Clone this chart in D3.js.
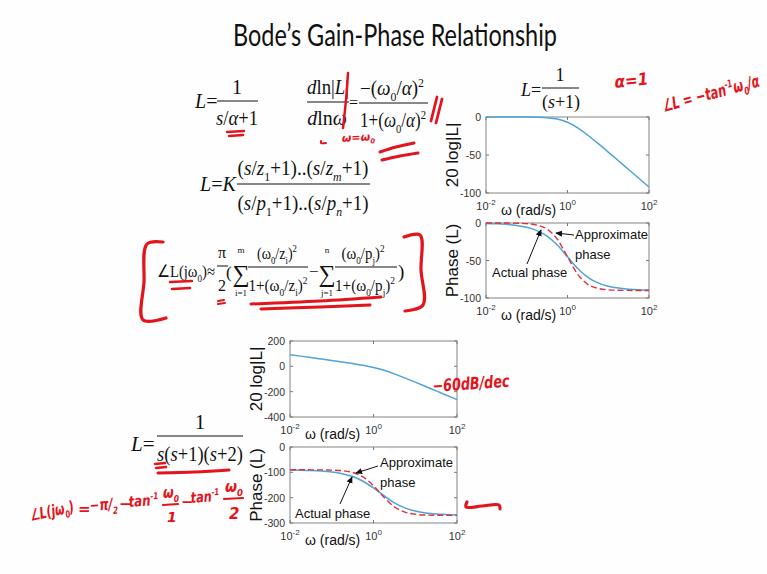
<!DOCTYPE html>
<html><head><meta charset="utf-8">
<script src="https://cdn.jsdelivr.net/npm/d3@7"></script>
<style>body{margin:0;background:#fff}svg{display:block}</style>
</head><body><svg id="c" width="767" height="574"></svg>
<script>
// Frequency grid (rad/s), quarter-decade steps
const omega = [0.01, 0.0178, 0.0316, 0.0562, 0.1, 0.178, 0.316, 0.562, 1, 1.78, 3.16, 5.62, 10, 17.8, 31.6, 56.2, 100];

// L = 1/(s+1)
const gain1 = [0, -0.003, -0.01, -0.03, -0.1, -0.31, -0.95, -2.75, -6.93, -14.3, -24.0, -34.8, -46.2, -57.6, -69.1, -80.6, -92.1];
const phase1Actual = [-0.57, -1.02, -1.81, -3.22, -5.71, -10.1, -17.5, -29.4, -45, -60.6, -72.5, -79.9, -84.3, -86.8, -88.2, -89.0, -89.4];
const phase1Approx = [-0.01, -0.03, -0.09, -0.28, -0.89, -2.77, -8.18, -21.6, -45, -68.4, -81.8, -87.2, -89.1, -89.7, -89.9, -90.0, -90.0];

// L = 1/(s(s+1)(s+2))
const gain2 = [92.1, 80.6, 69.1, 57.5, 45.9, 34.1, 21.8, 8.0, -9.2, -31.6, -59.5, -91.2, -124.8, -159.0, -193.4, -227.9, -262.4];
const phase2Actual = [-90.9, -91.5, -92.7, -94.8, -98.6, -105.2, -116.5, -135.1, -161.6, -192.2, -220.2, -240.3, -253.0, -260.4, -264.6, -266.9, -268.3];
const phase2Approx = [-90.0, -90.0, -90.1, -90.4, -91.1, -93.5, -100.4, -118.2, -153.0, -198.1, -236.1, -257.1, -265.6, -268.6, -269.6, -269.9, -270.0];

// Axis ticks
const xTicks = [0.01, 1, 100];
const xTickExp = ["-2", "0", "2"];
const gainTicks1 = [0, -50, -100];
const phaseTicks1 = [0, -50, -100];
const gainTicks2 = [200, 0, -200, -400];
const phaseTicks2 = [0, -100, -200, -300];

const SERIF = "'Liberation Serif','Times New Roman',serif";
const SANS = "'Liberation Sans',Arial,sans-serif";
const HAND = "'DejaVu Sans',sans-serif";
const RED = "#e3141c";
const BLUE = "#4fa3d8";
const DASH = "#e0303c";

const svg = d3.select("#c");
svg.append("rect").attr("width", 767).attr("height", 574).attr("fill", "#fefefe");

svg.append("defs").append("marker")
  .attr("id", "ah").attr("viewBox", "0 0 8 8").attr("refX", 7).attr("refY", 4)
  .attr("markerWidth", 7).attr("markerHeight", 7).attr("markerUnits", "userSpaceOnUse")
  .attr("orient", "auto")
  .append("path").attr("d", "M0,0.5 L8,4 L0,7.5 Z").attr("fill", "#111");

// Title
svg.append("text").attr("x", 395).attr("y", 46).attr("text-anchor", "middle")
  .attr("font-family", "Lato, 'Open Sans', sans-serif").attr("font-size", 30)
  .attr("textLength", 324).attr("lengthAdjust", "spacingAndGlyphs").attr("fill", "#111")
  .text("Bode\u2019s Gain-Phase Relationship");

// Math text helper: parts are strings or [string, flags] with i = italic, s = subscript, p = superscript.
// When a width is given, the whole line is scaled horizontally to that width.
function mt(g, x, y, parts, size, anchor = "start", fam = SERIF, color = "#111", len = 0) {
  const t = g.append("text").attr("x", x).attr("y", y).attr("font-size", size)
    .attr("font-family", fam).attr("text-anchor", anchor).attr("fill", color);
  let shift = 0;
  parts.forEach(p => {
    const [s, k] = Array.isArray(p) ? p : [p, ""];
    const ts = t.append("tspan").text(s);
    let target = 0;
    if (k.includes("s")) { target = size * 0.28; ts.attr("font-size", size * 0.62); }
    if (k.includes("p")) { target = -size * 0.4; ts.attr("font-size", size * 0.62); }
    if (k.includes("i")) ts.attr("font-style", "italic");
    if (target !== shift) { ts.attr("dy", target - shift); shift = target; }
  });
  let tf = `translate(${x},${y})`;
  if (len) {
    const w = t.node().getComputedTextLength();
    if (w > 0) tf += ` scale(${len / w},1)`;
  }
  t.attr("x", 0).attr("y", 0).attr("transform", tf);
  return t;
}
function bar(g, x1, x2, y, w = 1.1, color = "#111") {
  g.append("line").attr("x1", x1).attr("x2", x2).attr("y1", y).attr("y2", y)
    .attr("stroke", color).attr("stroke-width", w);
}

const eq = svg.append("g");

// L = 1/(s/α+1)
mt(eq, 195, 108, [["L", "i"], "="], 20);
mt(eq, 237, 94, ["1"], 20, "middle");
bar(eq, 217, 258, 101);
mt(eq, 237, 125, [["s", "i"], "/", ["α", "i"], "+1"], 20, "middle", SERIF, "#111", 42);

// d ln|L| / d ln ω = −(ω0/α)² / (1+(ω0/α)²)
mt(eq, 328, 94, [["d", "i"], "ln|", ["L", "i"], "|"], 20, "middle", SERIF, "#111", 42);
bar(eq, 307, 349, 102);
mt(eq, 327, 125, [["d", "i"], "ln", ["ω", "i"]], 20, "middle");
mt(eq, 349, 108, ["="], 16);
mt(eq, 392, 95, ["−(", ["ω", "i"], ["0", "s"], "/", ["α", "i"], ")", ["2", "p"]], 20, "middle", SERIF, "#111", 64);
bar(eq, 359, 428, 103);
mt(eq, 393, 127, ["1+(", ["ω", "i"], ["0", "s"], "/", ["α", "i"], ")", ["2", "p"]], 20, "middle", SERIF, "#111", 66);

// L = K (s/z1+1)..(s/zm+1) / (s/p1+1)..(s/pn+1)
mt(eq, 200, 191, [["L", "i"], "=", ["K", "i"]], 20, "start", SERIF, "#111", 36);
mt(eq, 303, 175, ["(", ["s", "i"], "/", ["z", "i"], ["1", "s"], "+1)..(", ["s", "i"], "/", ["z", "i"], ["m", "is"], "+1)"], 20, "middle", SERIF, "#111", 131);
bar(eq, 237, 370, 184);
mt(eq, 303, 210, ["(", ["s", "i"], "/", ["p", "i"], ["1", "s"], "+1)..(", ["s", "i"], "/", ["p", "i"], ["n", "is"], "+1)"], 20, "middle", SERIF, "#111", 131);

// ∠L(jω0) ≈ π/2 ( Σ ... − Σ ... )
mt(eq, 157, 277, ["∠L(jω", ["0", "s"], ")≈"], 17, "start", SERIF, "#111", 58);
mt(eq, 222, 258, ["π"], 16, "middle");
bar(eq, 217, 228, 266, 1);
mt(eq, 222, 291, ["2"], 16, "middle");
mt(eq, 226, 278, ["("], 17);
mt(eq, 241, 282, ["∑"], 24, "middle");
mt(eq, 241, 253, ["m"], 9, "middle");
mt(eq, 241, 296, ["i=1"], 9, "middle");
mt(eq, 277, 259, ["(ω", ["0", "s"], "/z", ["i", "s"], ")", ["2", "p"]], 17, "middle", SERIF, "#111", 40);
bar(eq, 248, 308, 267);
mt(eq, 278, 291, ["1+(ω", ["0", "s"], "/z", ["i", "s"], ")", ["2", "p"]], 17, "middle", SERIF, "#111", 59);
mt(eq, 309, 277, ["−"], 17);
mt(eq, 327, 282, ["∑"], 24, "middle");
mt(eq, 327, 253, ["n"], 9, "middle");
mt(eq, 327, 296, ["j=1"], 9, "middle");
mt(eq, 363, 259, ["(ω", ["0", "s"], "/p", ["j", "s"], ")", ["2", "p"]], 17, "middle", SERIF, "#111", 43);
bar(eq, 335, 397, 267);
mt(eq, 365, 291, ["1+(ω", ["0", "s"], "/p", ["j", "s"], ")", ["2", "p"]], 17, "middle", SERIF, "#111", 60);
mt(eq, 398, 278, [")"], 19);

// L = 1/(s+1) above the first Bode plot
mt(eq, 521, 96, [["L", "i"], "="], 18);
mt(eq, 560, 81, ["1"], 18, "middle");
bar(eq, 542, 579, 88);
mt(eq, 561, 108, ["(", ["s", "i"], "+1)"], 18, "middle");

// L = 1/(s(s+1)(s+2))
mt(eq, 131, 451, [["L", "i"], "="], 21);
mt(eq, 200, 429, ["1"], 21, "middle");
bar(eq, 157, 243, 436);
mt(eq, 200, 461, [["s", "i"], "(", ["s", "i"], "+1)(", ["s", "i"], "+2)"], 21, "middle", SERIF, "#111", 86);

// ---- Bode plots ----
const panels = [
  { x0: 486, x1: 649, y0: 117, y1: 193, dom: [-100, 0], ticks: gainTicks1, label: "20 log|L|",
    series: [{ v: gain1, c: "blue" }] },
  { x0: 486, x1: 649, y0: 223, y1: 298, dom: [-100, 0], ticks: phaseTicks1, label: "Phase (L)",
    series: [{ v: phase1Actual, c: "blue" }, { v: phase1Approx, c: "red" }] },
  { x0: 290, x1: 457, y0: 341, y1: 417, dom: [-400, 200], ticks: gainTicks2, label: "20 log|L|",
    series: [{ v: gain2, c: "blue" }] },
  { x0: 290, x1: 457, y0: 447, y1: 523, dom: [-300, 0], ticks: phaseTicks2, label: "Phase (L)",
    series: [{ v: phase2Actual, c: "blue" }, { v: phase2Approx, c: "red" }] }
];

panels.forEach(p => {
  const g = svg.append("g");
  const x = d3.scaleLog().domain([0.01, 100]).range([p.x0, p.x1]);
  const y = d3.scaleLinear().domain(p.dom).range([p.y1, p.y0]);

  g.append("rect").attr("x", p.x0).attr("y", p.y0).attr("width", p.x1 - p.x0).attr("height", p.y1 - p.y0)
    .attr("fill", "#fff").attr("stroke", "#8f8f8f").attr("stroke-width", 1.1);

  // ticks inside the frame
  p.ticks.forEach(t => {
    g.append("line").attr("x1", p.x0).attr("x2", p.x0 + 3).attr("y1", y(t)).attr("y2", y(t)).attr("stroke", "#777");
    g.append("line").attr("x1", p.x1).attr("x2", p.x1 - 3).attr("y1", y(t)).attr("y2", y(t)).attr("stroke", "#777");
    g.append("text").attr("x", p.x0 - 5).attr("y", y(t) + 4).attr("text-anchor", "end")
      .attr("font-family", SANS).attr("font-size", 10.5).attr("fill", "#333").text(t);
  });
  xTicks.forEach((t, i) => {
    g.append("line").attr("x1", x(t)).attr("x2", x(t)).attr("y1", p.y1).attr("y2", p.y1 - 3).attr("stroke", "#777");
    g.append("line").attr("x1", x(t)).attr("x2", x(t)).attr("y1", p.y0).attr("y2", p.y0 + 3).attr("stroke", "#777");
    const tx = g.append("text").attr("x", x(t)).attr("y", p.y1 + 17).attr("text-anchor", "middle")
      .attr("font-family", SANS).attr("font-size", 11).attr("fill", "#333");
    tx.append("tspan").text("10");
    tx.append("tspan").attr("font-size", 8).attr("dy", -5).text(xTickExp[i]);
  });
  g.append("text").attr("x", p.x0 + 15).attr("y", p.y1 + 22).attr("font-family", SANS)
    .attr("font-size", 14).attr("fill", "#111").text("ω (rad/s)");
  g.append("text").attr("transform", `translate(${p.x0 - 28},${(p.y0 + p.y1) / 2}) rotate(-90)`)
    .attr("text-anchor", "middle").attr("font-family", SANS).attr("font-size", 17)
    .attr("fill", "#111").text(p.label);

  const line = d3.line().x((d, i) => x(omega[i])).y(d => y(d)).curve(d3.curveMonotoneX);
  p.series.forEach(s => {
    g.append("path").attr("d", line(s.v)).attr("fill", "none")
      .attr("stroke", s.c === "blue" ? BLUE : DASH).attr("stroke-width", s.c === "blue" ? 1.5 : 1.4)
      .attr("stroke-dasharray", s.c === "blue" ? null : "6,3");
  });
});

// Curve annotations
function note(x, y, lines) {
  lines.forEach((l, i) => svg.append("text").attr("x", x).attr("y", y + i * 20)
    .attr("font-family", SANS).attr("font-size", 13).attr("fill", "#111").text(l));
}
function arrow(x1, y1, x2, y2) {
  svg.append("line").attr("x1", x1).attr("y1", y1).attr("x2", x2).attr("y2", y2)
    .attr("stroke", "#111").attr("stroke-width", 1).attr("marker-end", "url(#ah)");
}
note(575, 239, ["Approximate", "phase"]);
arrow(574, 235, 556, 233);
note(492, 277, ["Actual phase"]);
arrow(527, 264, 541, 230);
note(380, 467, ["Approximate", "phase"]);
arrow(378, 466, 356, 473);
note(295, 518, ["Actual phase"]);
arrow(340, 504, 352, 477);

// ---- Pen annotations ----
const pen = svg.append("g").attr("fill", "none").attr("stroke", RED)
  .attr("stroke-linecap", "round").attr("stroke-linejoin", "round");
function stroke(pts, w = 3) {
  pen.append("path").attr("d", d3.line().curve(d3.curveCatmullRom)(pts)).attr("stroke-width", w);
}
// underline under α
stroke([[227, 132], [244, 131]], 2.5);
stroke([[229, 136], [243, 135]], 2.5);
// slash through d ln|L|
stroke([[348, 73], [346, 100], [343, 128]], 2.5);
// double slash after equation
stroke([[431, 121], [437, 97]], 2.8);
stroke([[436, 123], [442, 99]], 2.8);
// double underline
stroke([[380, 152], [396, 147], [414, 143]], 3);
stroke([[382, 160], [400, 156], [418, 153]], 3);
// brackets around the phase approximation
stroke([[163, 242], [147, 244], [144, 282], [143, 320], [166, 318]], 3.2);
stroke([[404, 237], [420, 235], [421, 270], [423, 305], [405, 311]], 3.2);
// underlines in the phase formula
stroke([[170, 282], [192, 281]], 2.5);
stroke([[172, 289], [190, 288]], 2.5);
stroke([[218, 301], [224, 300]], 2);
stroke([[218, 304], [225, 303]], 2);
stroke([[251, 304], [320, 301], [381, 297]], 3);
stroke([[261, 309], [320, 307], [370, 305]], 3);
// underlines under s(s+1)(s+2)
stroke([[155, 464], [165, 463]], 2.5);
stroke([[156, 468], [166, 467]], 2.5);
stroke([[158, 473], [195, 472], [229, 470]], 3);
// dash next to the lower phase plot
stroke([[467, 502], [466, 507], [482, 506], [499, 505], [500, 509]], 3.2);
// small tick near ω = ω0
stroke([[321, 141], [321, 143], [326, 143]], 2);

function hand(x, y, parts, size, rot = 0, len = 0) {
  const t = mt(svg, x, y, parts, size, "start", HAND, RED, len)
    .attr("font-style", "italic").attr("font-weight", "bold");
  if (len) {
    // re-measure with the final weight/style applied
    const w = t.node().getComputedTextLength();
    t.attr("transform", `translate(${x},${y}) scale(${len / w},1)`);
  }
  if (rot) t.attr("transform", `rotate(${rot},${x},${y}) ` + t.attr("transform"));
  return t;
}
hand(342, 142, ["ω=ω", ["0", "s"]], 11, -3);
hand(615, 88, ["α=1"], 17, -6, 34);
hand(664, 112, ["∠L = −tan", ["-1", "p"], "ω", ["0", "s"], "/α"], 17, -15, 100);
hand(433, 392, ["−60dB/dec"], 17, -4, 77);

// ∠L(jω0) = −π/2 − tan⁻¹ ω0/1 − tan⁻¹ ω0/2
hand(31, 521, ["∠L(jω", ["0", "s"], ")"], 16, -12, 45);
hand(78, 514, ["="], 15);
hand(90, 511, ["−π/", ["2", "s"]], 16, -4, 28);
hand(119, 509, ["−"], 15);
hand(129, 507, ["tan", ["-1", "p"]], 15, -4, 30);
hand(163, 498, ["ω", ["0", "s"]], 15, 0, 16);
stroke([[163, 505], [178, 504]], 2.2);
hand(167, 522, ["1"], 14);
hand(181, 507, ["−"], 15);
hand(191, 503, ["tan", ["-1", "p"]], 15, -4, 29);
hand(225, 492, ["ω", ["0", "s"]], 15, 0, 18);
stroke([[224, 499], [243, 498]], 2.2);
hand(229, 519, ["2"], 15);
</script></body></html>
